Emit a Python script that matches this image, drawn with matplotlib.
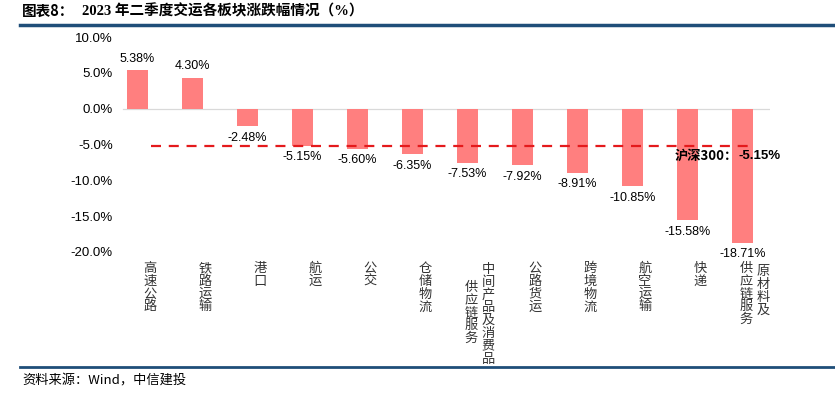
import matplotlib
matplotlib.use("Agg")
import matplotlib.pyplot as plt
from matplotlib.lines import Line2D

plt.rcParams['font.family'] = ['Liberation Sans', 'Noto Sans CJK SC', 'DejaVu Sans']

categories = ["高速公路", "铁路运输", "港口", "航运", "公交", "仓储物流",
              "中间产品及消费品供应链服务", "公路货运", "跨境物流", "航空运输", "快递",
              "原材料及供应链服务"]
label_columns = [["高速公路"], ["铁路运输"], ["港口"], ["航运"], ["公交"], ["仓储物流"],
                 ["中间产品及消费品", "供应链服务"], ["公路货运"], ["跨境物流"],
                 ["航空运输"], ["快递"], ["原材料及", "供应链服务"]]
values = [5.38, 4.30, -2.48, -5.15, -5.60, -6.35, -7.53, -7.92, -8.91, -10.85, -15.58, -18.71]
hs300 = -5.15
yticks = [10, 5, 0, -5, -10, -15, -20]

W, H = 835, 394
fig = plt.figure(figsize=(W/100, H/100), dpi=100)
ax = fig.add_axes([110/W, 1-252/H, 660/W, (252-37)/H])

x = list(range(len(values)))
ax.bar(x, values, width=0.37, color='#FF7F7F', zorder=2)
ax.set_xlim(-0.5, len(values)-0.5)
ax.set_ylim(-20, 10)
ax.set_yticks(yticks)
ax.set_yticklabels([f"{v:.1f}%" for v in yticks], fontsize=9.5)
ax.set_xticks([])
for s in ['top', 'right', 'bottom', 'left']:
    ax.spines[s].set_visible(False)
ax.tick_params(axis='y', length=0, pad=-2)
ax.axhline(0, xmin=0.02, xmax=1.0, color='#D9D9D9', lw=0.9, zorder=1)

for xi, v in zip(x, values):
    if v >= 0:
        ax.annotate(f"{v:.2f}%", (xi, v), xytext=(0, 4), textcoords='offset points',
                    ha='center', va='bottom', fontsize=9)
    else:
        ax.annotate(f"{v:.2f}%", (xi, v), xytext=(0, -4), textcoords='offset points',
                    ha='center', va='top', fontsize=9)

# HS300 reference line
ax.plot([0.25, 11.1], [hs300, hs300], color='#E41A1C', lw=1.6, ls=(0, (4.5, 3.5)), zorder=3)
ax.text(10.92, hs300 - 1.5, "沪深300：", fontsize=9.5, fontweight='bold',
        family=['Noto Sans CJK SC'], ha='right', va='center')
ax.text(10.92, hs300 - 1.5, f"{hs300:.2f}%", fontsize=9.5, fontweight='bold', ha='left', va='center')

# vertical category labels
ytops = {(6, 0): 263, (6, 1): 281, (11, 0): 265, (11, 1): 262}
for xi, cols in zip(x, label_columns):
    n = len(cols)
    for j, col in enumerate(cols):
        dx = 13 + ((n - 1) / 2 * 17 - j * 17)
        txt = "\n".join(col)
        ytop = ytops.get((xi, j), 262)
        xp = 137 + xi * 55
        fig.text((xp + dx) / W, 1 - ytop / H, txt, fontsize=9.5, ha='center', va='top',
                 family=['Noto Sans CJK SC'], linespacing=0.98, color='#333333')

# title
fig.text(22/W, 1 - 11/H, "图表8：", fontsize=10.5, fontweight='bold', family=['Noto Sans CJK SC'],
         va='center', ha='left')
fig.text(82/W, 1 - 11/H, "2023 年二季度交运各板块涨跌幅情况（%）", fontsize=10.5, fontweight='bold',
         family=['Liberation Serif', 'Noto Sans CJK SC'], va='center', ha='left')
fig.add_artist(Line2D([20/W, 1.0], [1 - 25/H, 1 - 25/H], color='#1F4E79', lw=2.5))
fig.add_artist(Line2D([20/W, 1.0], [1 - 367/H, 1 - 367/H], color='#1F4E79', lw=2.0))
fig.text(22/W, 1 - 381/H, "资料来源：Wind，中信建投", fontsize=9.5,
         family=['Noto Sans CJK SC'], va='center', ha='left')

fig.savefig("out.png", dpi=100)
